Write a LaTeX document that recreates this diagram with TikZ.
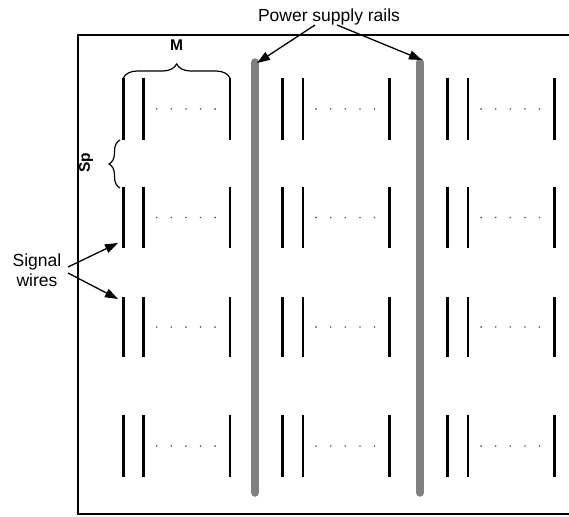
\documentclass[tikz,border=0pt]{standalone}
\usepackage{fontspec}
\setmainfont{Liberation Sans}
\usetikzlibrary{arrows.meta,decorations.pathreplacing}
\definecolor{railgray}{RGB}{128,128,128}
\definecolor{dotgray}{RGB}{80,80,80}
\begin{document}
\begin{tikzpicture}[x=1pt,y=-1pt,
  wire/.style={line width=2.5pt},
  rail/.style={line width=8.5pt,draw=railgray,line cap=round},
  lbl/.style={font=\fontsize{17.5}{20}\selectfont,align=center,inner sep=0pt},
  dimlbl/.style={font=\bfseries\fontsize{15.5}{17}\selectfont,inner sep=0pt},
  pointer/.style={line width=1.3pt,-{Triangle[length=13pt,width=9pt]}},
  bracket/.style={decorate,decoration={brace,amplitude=#1},line width=1.2pt},
]
\useasboundingbox (0,0) rectangle (569,516);

% chip outline (open to the right)
\draw[line width=1.2pt] (569,35) -- (78,35) -- (78,514) -- (569,514);

% signal wire groups: two wires, a gap of dots, and a last wire
\foreach \gx in {123.3,282.7,447.7}{
  \foreach \top/\bot in {78/140,187/248,297/357,415/477}{
    \draw[wire] (\gx,\top) -- (\gx,\bot);
    \draw[wire] (\gx+20.3,\top) -- (\gx+20.3,\bot);
    \draw[wire] (\gx+106.7,\top) -- (\gx+106.7,\bot);
    \foreach \k in {0,...,4}{
      \fill[dotgray] (\gx+33.4+\k*14.6,{(\top+\bot)/2}) circle (0.9);
    }
  }
}

% power supply rails
\draw[rail] (255,62.5) -- (255,492.5);
\draw[rail] (420,62.5) -- (420,492.5);

% labels
\node[lbl] (power) at (329,17) {Power supply rails};
\node[lbl] (signal) at (37,270) {Signal\\wires};
\node[dimlbl] (mlabel) at (176.5,45) {M};
\node[dimlbl,rotate=90] (splabel) at (86,163) {Sp};

% dimension braces
\coordinate (mleft) at (123.3,78);
\coordinate (mright) at (230,78);
\draw[bracket=14pt] (mleft) -- (mright);
\coordinate (spbot) at (120,188);
\coordinate (sptop) at (120,140);
\draw[bracket=11pt] (spbot) -- (sptop);

% pointers
\coordinate (pwrA) at (315,25);
\coordinate (pwrB) at (337,25);
\coordinate (railA) at (257,63);
\coordinate (railB) at (422,60);
\draw[pointer] (pwrA) -- (railA);
\draw[pointer] (pwrB) -- (railB);

\coordinate (sigA) at (68,267);
\coordinate (sigB) at (68,273);
\coordinate (wireA) at (118,243);
\coordinate (wireB) at (118,299);
\draw[pointer] (sigA) -- (wireA);
\draw[pointer] (sigB) -- (wireB);
\end{tikzpicture}
\end{document}
